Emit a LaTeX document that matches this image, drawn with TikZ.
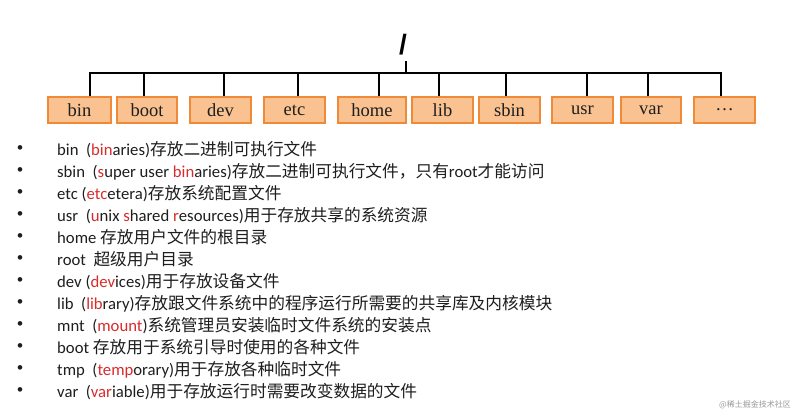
\documentclass[tikz,border=0pt]{standalone}
\usepackage{fontspec}
\setmainfont{Carlito}
\newfontfamily\cjk{Noto Sans CJK SC}
\newfontfamily\boxfont{Liberation Serif}
\newfontfamily\rootfont{Liberation Sans}
\definecolor{hl}{HTML}{D92B2B}
\definecolor{txt}{HTML}{1E1E1E}
\definecolor{boxfill}{HTML}{F9C290}
\definecolor{boxline}{HTML}{EE8A38}
\newcommand\R[1]{\textcolor{hl}{#1}}
\newcommand\C[1]{{\cjk #1}}
\begin{document}
\begin{tikzpicture}[x=1pt,y=-1pt,
  dirbox/.style={draw=boxline,fill=boxfill,line width=1.6pt,minimum height=26pt,inner sep=0pt,font=\boxfont\fontsize{18.5}{20}\selectfont,text=txt},
  bus/.style={line width=2.4pt,black},
  item/.style={anchor=base west,inner sep=0pt,font=\fontsize{16.7}{19}\selectfont,text=txt},
  bul/.style={anchor=center,inner sep=0pt,font=\fontsize{13}{15}\selectfont,text=txt}]
\useasboundingbox[fill=white] (0,0) rectangle (799,417);
% root
\node[inner sep=0pt,font=\rootfont\bfseries\fontsize{28}{28}\selectfont] (root) at (403,45) {/};
% boxes
\foreach \n/\l/\r/\lab in {bin/48/111/bin, boot/117/177/boot, dev/190/251/dev, etc/264/325/etc, home/338/406/home, lib/412/473/lib, sbin/479/540/sbin, usr/552/613/usr, var/621/681/var, more/694/755/\dots}{
  \node[dirbox,minimum width={\r-\l}] (\n) at ({(\l+\r)/2},110) {\lab};
}
% bus
\coordinate (busL) at (90,73);
\coordinate (busR) at (721,73);
\coordinate (rj) at (406,73);
\draw[bus,line cap=rect] (busL) -- (busR);
\draw[bus] (rj) -- (406,61);
\foreach \n/\x in {bin/90, boot/144, dev/224, etc/298, home/379, lib/439, sbin/506, usr/587, var/648, more/721}{
  \coordinate (j\n) at (\x,73);
  \draw[bus] (j\n) -- (j\n |- \n.north);
}
% list
\foreach \i/\t in {
 0/{bin\ \ (\R{bin}aries)\C{存放二进制可执行文件}},
 1/{sbin\ \ (\R{s}uper user \R{bin}aries)\C{存放二进制可执行文件，只有}root\C{才能访问}},
 2/{etc (\R{etc}etera)\C{存放系统配置文件}},
 3/{usr\ \ (\R{u}nix \R{s}hared \R{r}esources)\C{用于存放共享的系统资源}},
 4/{home \C{存放用户文件的根目录}},
 5/{root\ \ \C{超级用户目录}},
 6/{dev (\R{dev}ices)\C{用于存放设备文件}},
 7/{lib\ \ (\R{lib}rary)\C{存放跟文件系统中的程序运行所需要的共享库及内核模块}},
 8/{mnt\ \ (\R{mount})\C{系统管理员安装临时文件系统的安装点}},
 9/{boot \C{存放用于系统引导时使用的各种文件}},
 10/{tmp\ \ (\R{temp}orary)\C{用于存放各种临时文件}},
 11/{var\ \ (\R{var}iable)\C{用于存放运行时需要改变数据的文件}}}{
  \node[bul] (b\i) at (20,{149+22*\i}) {\textbullet};
  \node[item] (t\i) at (57,{155+22*\i}) {\t};
}
\node[anchor=east,inner sep=0pt,text=black!40,font=\cjk\fontsize{8}{9}\selectfont] (wm) at (791,405) {@稀土掘金技术社区};
\end{tikzpicture}
\end{document}
